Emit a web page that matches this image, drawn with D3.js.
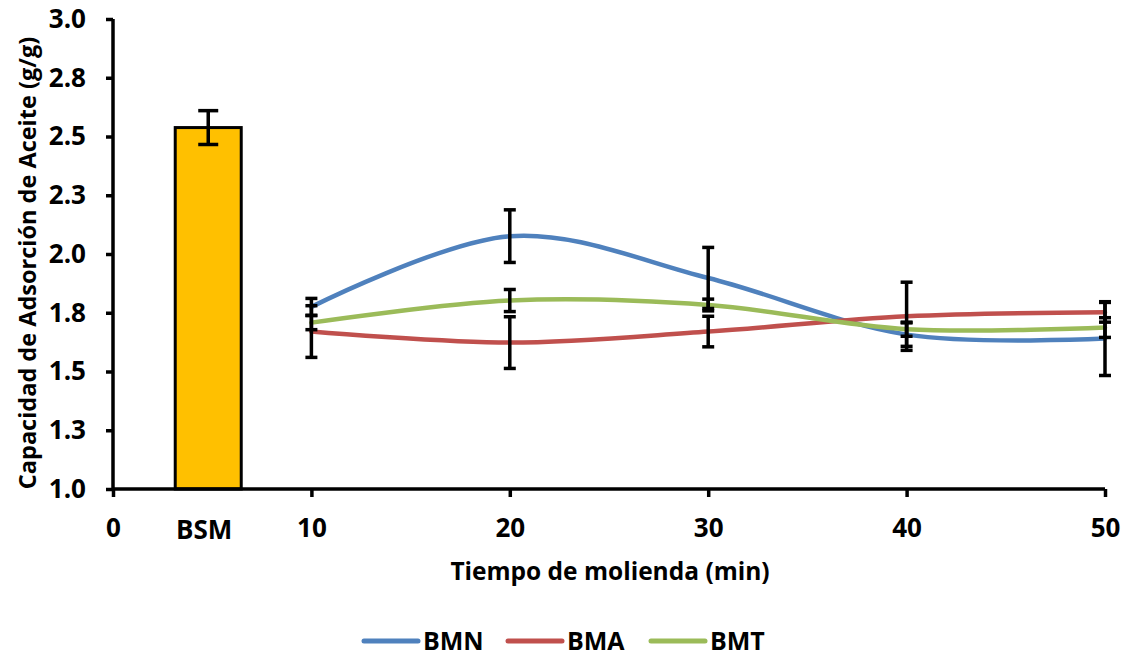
<!DOCTYPE html>
<html><head><meta charset="utf-8">
<script src="https://cdn.jsdelivr.net/npm/d3@7"></script>
<style>body{margin:0;background:#fff}svg{display:block}text{font-family:"Open Sans",sans-serif;font-weight:700;fill:#000}</style>
</head><body><svg id="c" width="1127" height="657"></svg>
<script>
const times = [10, 20, 30, 40, 50];
const bmn = [1.775, 2.076, 1.898, 1.657, 1.640];
const bma = [1.670, 1.623, 1.670, 1.735, 1.752];
const bmt = [1.708, 1.802, 1.783, 1.680, 1.687];
const bmnErr = [0.036, 0.112, 0.130, 0.050, 0.157];
const bmaErr = [0.110, 0.110, 0.065, 0.145, 0.042];
const bmtErr = [0.030, 0.047, 0.025, 0.030, 0.042];
const barLabel = "BSM";
const barPos = 4.8;
const barValue = 2.538;
const barErr = 0.072;
const yTicks = [1.0, 1.25, 1.5, 1.75, 2.0, 2.25, 2.5, 2.75, 3.0];
const yTickLabels = ["1.0","1.3","1.5","1.8","2.0","2.3","2.5","2.8","3.0"];
const xTicks = [0, 10, 20, 30, 40, 50];
const seriesNames = ["BMN", "BMA", "BMT"];
const colors = ["#4F81BD", "#C0504D", "#9BBB59"];

const FONT = '"Open Sans",sans-serif';
const svg = d3.select("#c");
const x = d3.scaleLinear().domain([0, 50]).range([113, 1105]);
const y = d3.scaleLinear().domain([1, 3]).range([489, 19]);

// bar
const bw = 66;
svg.append("rect").attr("x", x(barPos) - bw/2).attr("y", y(barValue))
  .attr("width", bw).attr("height", y(1) - y(barValue))
  .attr("fill", "#FFC000").attr("stroke", "#000").attr("stroke-width", 3);
function errBar(cx, v, e, hw) {
  const g = svg.append("g").attr("stroke", "#000").attr("stroke-width", 3.5);
  g.append("line").attr("x1", cx).attr("x2", cx).attr("y1", y(v + e)).attr("y2", y(v - e));
  [v + e, v - e].forEach(t => g.append("line").attr("x1", cx - hw).attr("x2", cx + hw).attr("y1", y(t)).attr("y2", y(t)));
}
errBar(x(barPos), barValue, barErr, 10);

// axes
const yAxis = svg.append("g").attr("transform", `translate(${x(0)},0)`)
  .call(d3.axisLeft(y).tickValues(yTicks).tickSize(7).tickPadding(20).tickFormat((d, i) => yTickLabels[i]));
const xAxis = svg.append("g").attr("transform", `translate(0,${y(1)})`)
  .call(d3.axisBottom(x).tickValues(xTicks).tickSize(8).tickPadding(22).tickFormat(d3.format("d")));
[yAxis, xAxis].forEach(a => {
  a.select(".domain").attr("stroke-width", 3.5).attr("stroke", "#000");
  a.selectAll(".tick line").attr("stroke-width", 3.5).attr("stroke", "#000");
  a.selectAll("text").attr("font-size", 26).attr("font-family", FONT).attr("font-weight", 700).attr("fill", "#000");
});
xAxis.select(".domain").attr("d", `M${x(0)},0H${x(50)}`);
yAxis.select(".domain").attr("d", `M0,${y(1)}V${y(3)}`);
svg.append("text").attr("x", x(barPos) - 4).attr("y", 539).attr("text-anchor", "middle")
  .attr("font-size", 26).text(barLabel);

// lines
const series = [bmn, bma, bmt];
const errs = [bmnErr, bmaErr, bmtErr];
const line = d3.line().x((d, i) => x(times[i])).y(d => y(d)).curve(d3.curveCardinal.tension(0));
series.forEach((s, k) => {
  svg.append("path").attr("d", line(s)).attr("fill", "none").attr("stroke", colors[k])
    .attr("stroke-width", 4.5).attr("stroke-linecap", "round");
});
series.forEach((s, k) => s.forEach((v, i) => errBar(x(times[i]), v, errs[k][i], 6)));

// titles
svg.append("text").attr("x", 610).attr("y", 580).attr("text-anchor", "middle").attr("font-size", 24.5)
  .text("Tiempo de molienda (min)");
svg.append("text").attr("transform", `translate(36,263) rotate(-90)`).attr("text-anchor", "middle")
  .attr("font-size", 23.5).text("Capacidad de Adsorción de Aceite (g/g)");

// legend
const lx = [364, 508, 651];
seriesNames.forEach((n, k) => {
  svg.append("line").attr("x1", lx[k]).attr("x2", lx[k] + 54).attr("y1", 641).attr("y2", 641)
    .attr("stroke", colors[k]).attr("stroke-width", 5).attr("stroke-linecap", "round");
  svg.append("text").attr("x", lx[k] + 59).attr("y", 650).attr("font-size", 25).text(n);
});
</script></body></html>
